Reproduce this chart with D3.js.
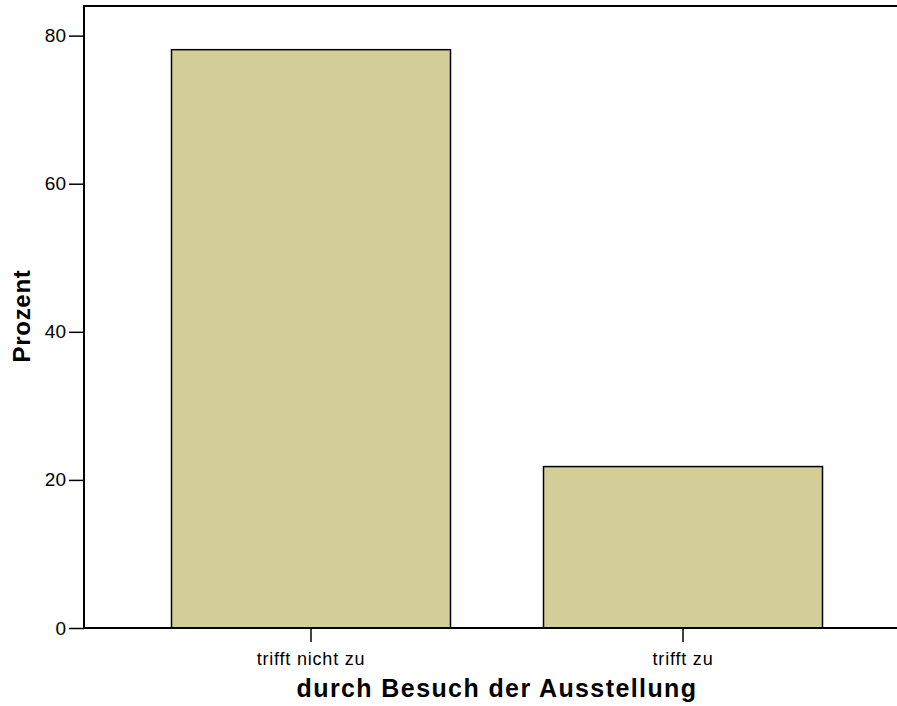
<!DOCTYPE html>
<html>
<head>
<meta charset="utf-8">
<script src="https://cdn.jsdelivr.net/npm/d3@7"></script>
<style>
  body { margin: 0; background: #fff; }
  svg { display: block; font-family: "Liberation Sans", Arial, sans-serif; }
</style>
</head>
<body>
<div id="chart"></div>
<script>
const categories = ["trifft nicht zu", "trifft zu"];
const percent = [78.1, 21.8];
const yTicks = [0, 20, 40, 60, 80];

const W = 897, H = 706;
let plot = { left: 84, top: 6, bottom: 628, right: 930 };

let svg = d3.select("#chart")
  .append("svg")
  .attr("width", W)
  .attr("height", H);

let x = d3.scaleBand()
  .domain(categories)
  .range([125, 869])
  .paddingInner(0.25)
  .paddingOuter(0.125);

let y = d3.scaleLinear()
  .domain([0, 84])
  .range([plot.bottom, plot.top]);

// bars
svg.append("g")
  .selectAll("rect")
  .data(categories)
  .enter()
  .append("rect")
  .attr("x", d => x(d))
  .attr("y", (d, i) => y(percent[i]))
  .attr("width", x.bandwidth())
  .attr("height", (d, i) => y(0) - y(percent[i]))
  .attr("fill", "#d3ce97")
  .attr("stroke", "#000")
  .attr("stroke-width", 1.5);

// frame, open on the right (runs off the page)
svg.append("rect")
  .attr("x", plot.left)
  .attr("y", plot.top)
  .attr("width", plot.right - plot.left)
  .attr("height", plot.bottom - plot.top)
  .attr("fill", "none")
  .attr("stroke", "#000")
  .attr("stroke-width", 2);

let yAxis = svg.append("g")
  .attr("transform", "translate(" + plot.left + ",0)")
  .call(d3.axisLeft(y).tickValues(yTicks).tickSize(15).tickPadding(3));
yAxis.select(".domain").remove();
yAxis.selectAll("line").attr("stroke-width", 1.5);
yAxis.selectAll("text")
  .style("font-size", "19px")
  .style("font-family", "Liberation Sans, Arial, sans-serif")
  .attr("fill", "#000");

let xAxis = svg.append("g")
  .attr("transform", "translate(0," + plot.bottom + ")")
  .call(d3.axisBottom(x).tickSize(14).tickPadding(10));
xAxis.select(".domain").remove();
xAxis.selectAll("line").attr("stroke-width", 1.5);
xAxis.selectAll("text")
  .style("font-size", "18px")
  .style("letter-spacing", "0.8px")
  .style("font-family", "Liberation Sans, Arial, sans-serif")
  .attr("fill", "#000");

svg.append("text")
  .attr("x", 497)
  .attr("y", 697)
  .style("text-anchor", "middle")
  .style("font-size", "25px")
  .style("font-weight", "bold")
  .style("letter-spacing", "1.4px")
  .text("durch Besuch der Ausstellung");

svg.append("text")
  .attr("transform", "rotate(-90)")
  .attr("x", -316)
  .attr("y", 30)
  .style("text-anchor", "middle")
  .style("font-size", "24px")
  .style("font-weight", "bold")
  .style("letter-spacing", "0.7px")
  .text("Prozent");
</script>
</body>
</html>
